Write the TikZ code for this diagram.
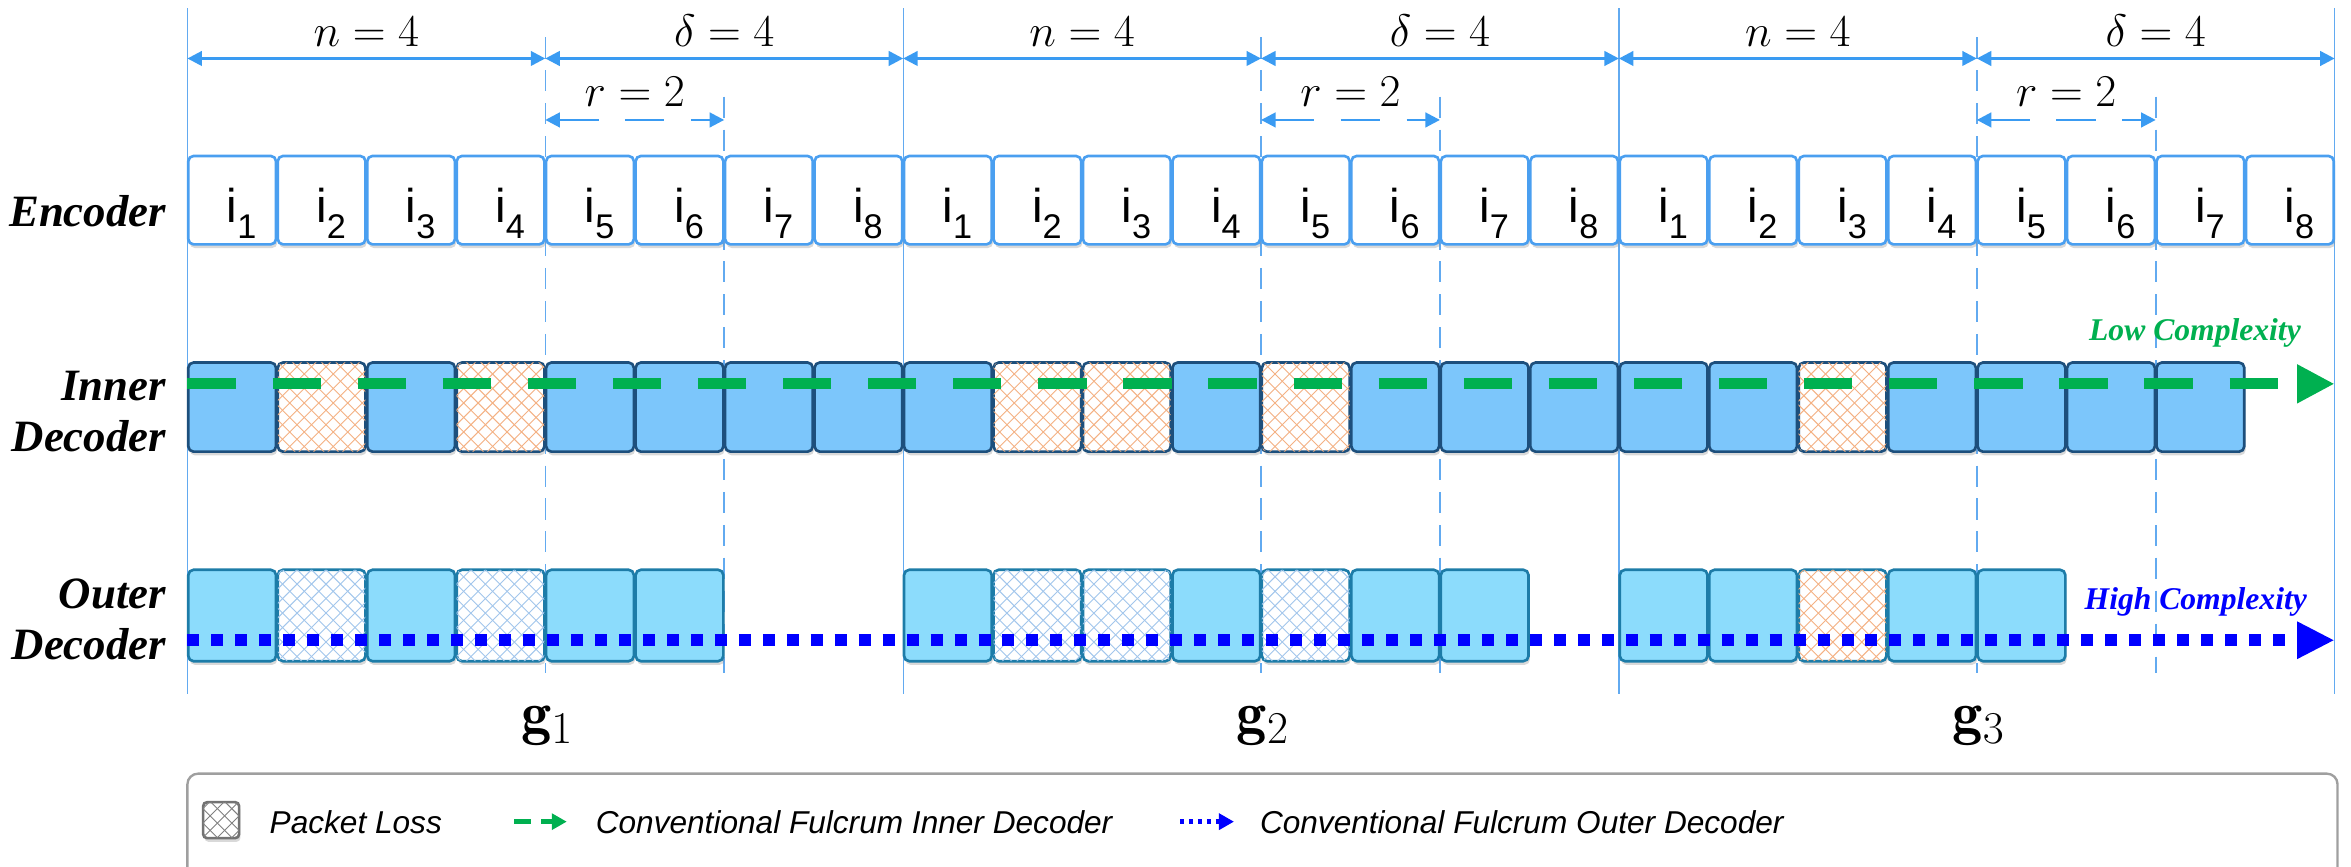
\documentclass[tikz,border=0pt]{standalone}
\usepackage{fontspec}
\setsansfont{Liberation Sans}
\newfontfamily\rowfont{Liberation Serif}
\usetikzlibrary{arrows.meta,patterns.meta,shadows}

\definecolor{pktblue}{HTML}{4A9FF0}
\definecolor{gridblue}{HTML}{62AAF0}
\definecolor{dimblue}{HTML}{3A9BF2}
\definecolor{innerfill}{HTML}{7CC6FB}
\definecolor{innerline}{HTML}{1D4F7C}
\definecolor{outerfill}{HTML}{8CDCFC}
\definecolor{outerline}{HTML}{1D7CA8}
\definecolor{lossorange}{HTML}{F4B183}
\definecolor{lossblue}{HTML}{A2C6EC}
\definecolor{fgreen}{HTML}{00B050}
\definecolor{fblue}{HTML}{0000FF}

% crossed hatch for lost packets
\tikzdeclarepattern{
  name=losshatch,
  type=uncolored,
  bottom left={(-.1pt,-.1pt)},
  top right={(5.6pt,5.6pt)},
  tile size={(5.5pt,5.5pt)},
  code={
    \draw[line width=.35pt] (0,0) -- (5.5pt,5.5pt);
    \draw[line width=.35pt] (0,5.5pt) -- (5.5pt,0);
  }
}

% packet label i_k
\newcommand\pkt[1]{i\rlap{\raisebox{-6pt}{\fontsize{13}{13}\selectfont #1}}}

\begin{document}
\begin{tikzpicture}[x=0.02cm, y=-0.02cm,
  grid/.style={gridblue, line width=.5pt},
  cut/.style={gridblue, line width=.6pt, dash pattern=on 8pt off 4.5pt},
  dim/.style={dimblue, line width=1pt,
    {Triangle[length=5.5pt,width=5.5pt]}-{Triangle[length=5.5pt,width=5.5pt]}},
  dimlabel/.style={inner sep=0pt, anchor=base, font=\fontsize{16.5}{19}\selectfont},
  rowlabel/.style={inner sep=0pt, anchor=base east,
    font=\rowfont\bfseries\itshape\fontsize{17}{20}\selectfont},
  shade/.style={drop shadow={opacity=.3, shadow xshift=.5pt, shadow yshift=-1.4pt}},
  pktbox/.style={rounded corners=2pt, line width=1pt, inner sep=0pt,
    minimum width=1.17cm, minimum height=1.19cm, shade},
  enc/.style={pktbox, draw=pktblue, fill=white, minimum height=1.18cm,
    text height=17pt, text depth=0pt, font=\sffamily\fontsize{18}{18}\selectfont},
  inpkt/.style={pktbox, draw=innerline, fill=innerfill},
  inloss/.style={pktbox, draw=innerline, fill=white,
    postaction={pattern=losshatch, pattern color=lossorange}},
  outpkt/.style={pktbox, draw=outerline, fill=outerfill, minimum height=1.22cm},
  outlossb/.style={outpkt, fill=white,
    postaction={pattern=losshatch, pattern color=lossblue}},
  outlosso/.style={outpkt, fill=white,
    postaction={pattern=losshatch, pattern color=lossorange}},
  inflow/.style={fgreen, line width=4.2pt, dash pattern=on 18.3pt off 14pt,
    -{Triangle[length=14.2pt,width=13.8pt]}},
  outflow/.style={fblue, line width=4.5pt, dash pattern=on 4.55pt off 4.55pt,
    -{Triangle[length=14.2pt,width=13.2pt]}},
  note/.style={inner sep=0pt, anchor=base west,
    font=\rowfont\bfseries\itshape\fontsize{12}{14}\selectfont},
  keytext/.style={inner sep=0pt, anchor=base west,
    font=\sffamily\itshape\fontsize{12}{14}\selectfont}]

  \useasboundingbox (0,0) rectangle (1568,578);

  % group borders and the n / r cuts
  \foreach \g in {0,1,2,3}
    \draw[grid] ({125+477.36*\g},5.5) -- ({125+477.36*\g},463);
  \foreach \g in {0,1,2}{
    \pgfmathsetmacro\gx{125+477.36*\g}
    \draw[cut] ({\gx+238.68},25) -- ({\gx+238.68},449);
    \draw[cut] ({\gx+358.02},64.5) -- ({\gx+358.02},449);
    \coordinate (nL\g) at (\gx,39);
    \coordinate (nR\g) at ({\gx+238.68},39);
    \coordinate (dR\g) at ({\gx+477.36},39);
    \coordinate (rL\g) at ({\gx+238.68},80);
    \coordinate (rR\g) at ({\gx+358.02},80);
    \draw[dim] (nL\g) -- (nR\g);
    \draw[dim] (nR\g) -- (dR\g);
    \draw[dim, dash pattern=on 15pt off 10pt] (rL\g) -- (rR\g);
    \node[dimlabel] (nlab\g) at ({\gx+119.34},31) {$n=4$};
    \node[dimlabel] (dlab\g) at ({\gx+358.02},31) {$\delta=4$};
    \node[dimlabel] (rlab\g) at ({\gx+298.35},71) {$r=2$};
    \pgfmathtruncatemacro\gi{\g+1}
    \node[dimlabel, font=\fontsize{23}{26}\selectfont] (gen\g) at ({\gx+240},489)
      {$\mathbf{g}_{\gi}$};
  }

  % row titles
  \node[rowlabel] (encLbl) at (111,151) {Encoder};
  \node[rowlabel] (inLblA) at (111,267) {Inner};
  \node[rowlabel] (inLblB) at (111,301) {Decoder};
  \node[rowlabel] (outLblA) at (111,406) {Outer};
  \node[rowlabel] (outLblB) at (111,440) {Decoder};

  % encoder packets
  \foreach \k in {1,...,24}{
    \pgfmathtruncatemacro\idx{mod(\k-1,8)+1}
    \node[enc] (enc\k) at ({125+59.67*(\k-.5)},133.5) {\pkt{\idx}};
  }

  % inner decoder packets
  \foreach \k/\s in {1/inpkt,2/inloss,3/inpkt,4/inloss,5/inpkt,6/inpkt,7/inpkt,8/inpkt,
      9/inpkt,10/inloss,11/inloss,12/inpkt,13/inloss,14/inpkt,15/inpkt,16/inpkt,
      17/inpkt,18/inpkt,19/inloss,20/inpkt,21/inpkt,22/inpkt,23/inpkt}
    \node[\s] (in\k) at ({125+59.67*(\k-.5)},271.5) {};

  % outer decoder packets
  \foreach \k/\s in {1/outpkt,2/outlossb,3/outpkt,4/outlossb,5/outpkt,6/outpkt,
      9/outpkt,10/outlossb,11/outlossb,12/outpkt,13/outlossb,14/outpkt,15/outpkt,
      17/outpkt,18/outpkt,19/outlosso,20/outpkt,21/outpkt}
    \node[\s] (out\k) at ({125+59.67*(\k-.5)},410.5) {};

  % decoding directions
  \coordinate (inA) at (125,256);
  \coordinate (inB) at (1557,256);
  \coordinate (outA) at (125,427);
  \coordinate (outB) at (1557,427);
  \draw[inflow] (inA) -- (inB);
  \draw[outflow] (outA) -- (outB);
  \node[note, text=fgreen] (lowNote) at (1393,227) {Low Complexity};
  \node[note, text=fblue] (highNote) at (1390,406.5) {High Complexity};

  % legend
  \draw[gray!75, line width=.9pt, rounded corners=4pt] (125,516) rectangle (1559,640);
  \node[pktbox, draw=gray!90!black, fill=white, minimum width=.48cm, minimum height=.48cm,
    rounded corners=1.5pt, postaction={pattern=losshatch, pattern color=gray}]
    (lossKey) at (147.5,547) {};
  \node[keytext] (lossTxt) at (179.5,556) {Packet Loss};
  \coordinate (keyInA) at (343,548);
  \coordinate (keyInB) at (378,548);
  \draw[fgreen, line width=1.7pt, dash pattern=on 6.3pt off 4pt,
    -{Triangle[length=5.7pt,width=6pt]}] (keyInA) -- (keyInB);
  \node[keytext] (innerTxt) at (397,556) {Conventional Fulcrum Inner Decoder};
  \coordinate (keyOutA) at (787,548);
  \coordinate (keyOutB) at (823,548);
  \draw[fblue, line width=1.7pt, dash pattern=on 1.7pt off 1.7pt,
    -{Triangle[length=5.7pt,width=6pt]}] (keyOutA) -- (keyOutB);
  \node[keytext] (outerTxt) at (840,556) {Conventional Fulcrum Outer Decoder};
\end{tikzpicture}
\end{document}
